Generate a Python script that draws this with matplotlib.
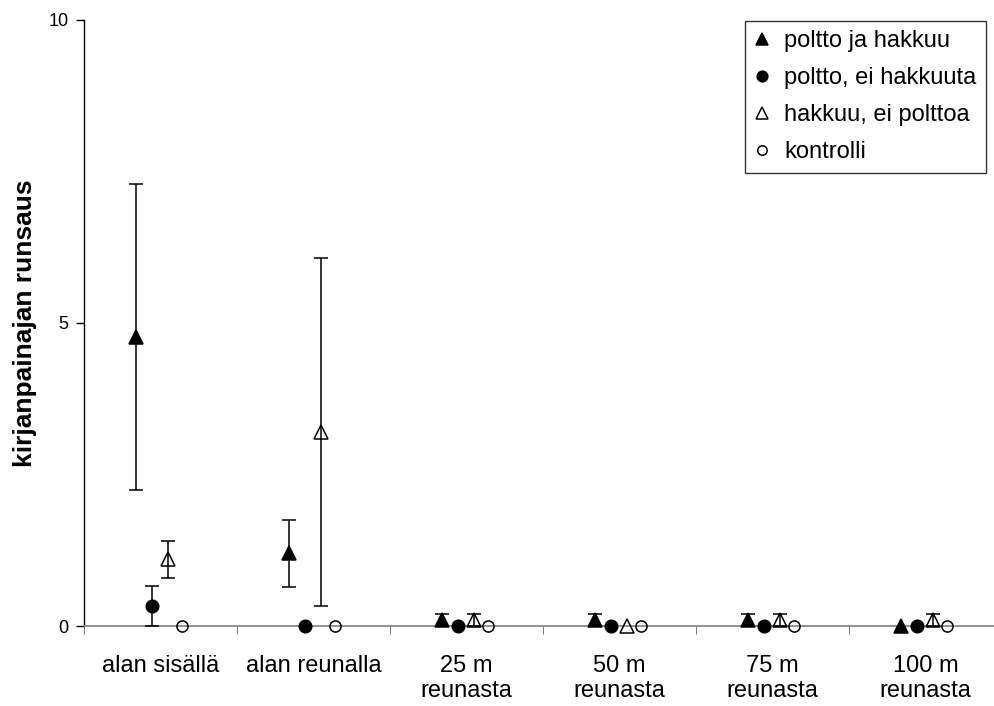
import matplotlib.pyplot as plt
import numpy as np

plt.rcParams['font.family'] = ['Liberation Sans', 'DejaVu Sans']

kategoriat = ["alan sisällä", "alan reunalla", "25 m\nreunasta", "50 m\nreunasta",
              "75 m\nreunasta", "100 m\nreunasta"]

# keskiarvot ja keskivirheet
poltto_hakkuu = [4.77, 1.2, 0.1, 0.1, 0.1, 0.0]
poltto_hakkuu_se = [2.53, 0.55, 0.1, 0.1, 0.1, 0.0]
poltto_ei_hakkuuta = [0.33, 0.0, 0.0, 0.0, 0.0, 0.0]
poltto_ei_hakkuuta_se = [0.33, 0.0, 0.0, 0.0, 0.0, 0.0]
hakkuu_ei_polttoa = [1.1, 3.2, 0.1, 0.0, 0.1, 0.1]
hakkuu_ei_polttoa_se = [0.3, 2.87, 0.1, 0.0, 0.1, 0.1]
kontrolli = [0.0, 0.0, 0.0, 0.0, 0.0, 0.0]

sarjat = [
    ("poltto ja hakkuu", poltto_hakkuu, poltto_hakkuu_se, "^", "black", 10, -0.16),
    ("poltto, ei hakkuuta", poltto_ei_hakkuuta, poltto_ei_hakkuuta_se, "o", "black", 9, -0.055),
    ("hakkuu, ei polttoa", hakkuu_ei_polttoa, hakkuu_ei_polttoa_se, "^", "none", 10, 0.05),
    ("kontrolli", kontrolli, None, "o", "none", 8, 0.14),
]

fig = plt.figure(figsize=(9.94, 7.06), dpi=100)
ax = fig.add_axes([0.0845, 0.1133, 1.008 - 0.0845, 0.9717 - 0.1133])

x = np.arange(len(kategoriat)) + 0.5
for nimi, arvot, virheet, merkki, tayte, koko, siirto in sarjat:
    arvot = np.array(arvot)
    if virheet is not None:
        virheet = np.array(virheet)
        maski = virheet > 0
        ax.errorbar(x[maski] + siirto, arvot[maski], yerr=virheet[maski], fmt="none",
                    ecolor="black", elinewidth=1.1, capsize=5, capthick=1.1,
                    clip_on=False, zorder=3)
    ax.plot(x + siirto, arvot, linestyle="none", marker=merkki, markersize=koko,
            markerfacecolor=tayte, markeredgecolor="black", markeredgewidth=1.1,
            label=nimi, clip_on=False, zorder=4)

ax.set_xlim(0, 6)
ax.set_ylim(0, 10)
ax.set_yticks([0, 5, 10])
ax.set_yticklabels(["0", "5", "10"], fontsize=13)
ax.set_xticks(np.arange(0, 7))
ax.set_xticklabels([])
ax.set_xticks(x, minor=True)
ax.set_xticklabels(kategoriat, minor=True, fontsize=17, linespacing=1.15)
ax.tick_params(axis="x", which="minor", length=0, pad=21)
ax.tick_params(axis="x", which="major", length=6, color="#808080", direction="out")
ax.tick_params(axis="y", length=6, direction="out", width=1, pad=5)

for s in ["top", "right"]:
    ax.spines[s].set_visible(False)
ax.spines["bottom"].set_color("#808080")
ax.spines["bottom"].set_linewidth(1.2)
ax.spines["left"].set_linewidth(1)

fig.text(25 / 994, 1 - 323 / 706, "kirjanpainajan runsaus", rotation=90,
         ha="center", va="center", fontsize=19, fontweight="bold")

leg = ax.legend(loc="upper right", bbox_to_anchor=(986 / 994, 1 - 21 / 706),
                bbox_transform=fig.transFigure, borderaxespad=0, fontsize=17,
                frameon=True, fancybox=False, edgecolor="black", handletextpad=0.65,
                handlelength=0.6, borderpad=0.4, labelspacing=0.63, markerscale=0.85)
leg.get_frame().set_linewidth(1)

fig.savefig("out.png", dpi=100)
